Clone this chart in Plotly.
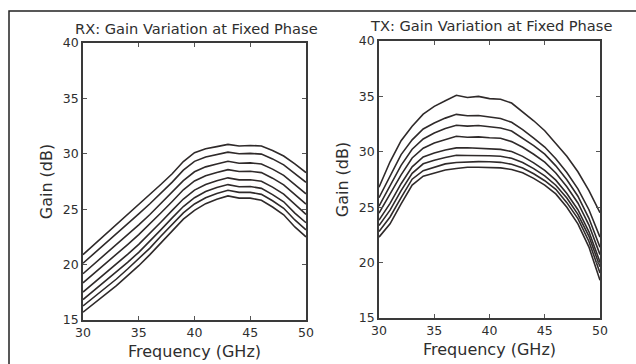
import plotly.graph_objects as go

# ---------------- data ----------------
freq_ghz = [30, 31, 32, 33, 34, 35, 36, 37, 38, 39, 40, 41, 42, 43, 44, 45, 46, 47, 48, 49, 50]

# RX: gain variation at fixed phase (8 gain states), dB
rx_gain_1 = [20.90, 21.80, 22.70, 23.60, 24.50, 25.40, 26.30, 27.25, 28.20, 29.30, 30.10, 30.45, 30.65, 30.85, 30.70, 30.75, 30.70, 30.30, 29.80, 29.10, 28.30]
rx_gain_2 = [20.12, 21.00, 21.89, 22.78, 23.68, 24.58, 25.49, 26.46, 27.44, 28.52, 29.32, 29.71, 29.94, 30.15, 30.00, 30.04, 29.97, 29.54, 29.00, 28.25, 27.43]
rx_gain_3 = [19.18, 20.05, 20.92, 21.79, 22.69, 23.59, 24.52, 25.52, 26.52, 27.58, 28.38, 28.82, 29.08, 29.32, 29.15, 29.18, 29.08, 28.62, 28.05, 27.22, 26.39]
rx_gain_4 = [18.35, 19.20, 20.05, 20.91, 21.81, 22.71, 23.65, 24.68, 25.70, 26.75, 27.55, 28.02, 28.32, 28.57, 28.40, 28.42, 28.30, 27.80, 27.20, 26.31, 25.46]
rx_gain_5 = [17.52, 18.36, 19.19, 20.03, 20.93, 21.83, 22.79, 23.84, 24.89, 25.92, 26.72, 27.23, 27.56, 27.83, 27.65, 27.66, 27.52, 26.99, 26.36, 25.40, 24.53]
rx_gain_6 = [16.84, 17.67, 18.49, 19.31, 20.21, 21.11, 22.09, 23.16, 24.22, 25.24, 26.04, 26.59, 26.95, 27.22, 27.03, 27.05, 26.88, 26.32, 25.67, 24.65, 23.78]
rx_gain_7 = [16.27, 17.08, 17.89, 18.70, 19.60, 20.50, 21.49, 22.58, 23.66, 24.67, 25.47, 26.04, 26.42, 26.71, 26.52, 26.52, 26.34, 25.76, 25.08, 24.03, 23.14]
rx_gain_8 = [15.70, 16.50, 17.30, 18.10, 19.00, 19.90, 20.90, 22.00, 23.10, 24.10, 24.90, 25.50, 25.90, 26.20, 26.00, 26.00, 25.80, 25.20, 24.50, 23.40, 22.50]

# TX: gain variation at fixed phase (8 gain states), dB
tx_gain_1 = [26.80, 29.10, 31.00, 32.30, 33.40, 34.10, 34.60, 35.10, 34.90, 35.00, 34.80, 34.75, 34.40, 33.60, 32.80, 31.90, 30.80, 29.60, 28.20, 26.50, 24.50]
tx_gain_2 = [25.86, 27.87, 29.75, 31.08, 32.06, 32.60, 33.04, 33.38, 33.26, 33.27, 33.13, 33.01, 32.66, 32.01, 31.24, 30.43, 29.37, 28.13, 26.65, 24.77, 22.30]
tx_gain_3 = [25.09, 26.97, 28.78, 30.23, 31.16, 31.70, 32.10, 32.39, 32.32, 32.38, 32.26, 32.15, 31.88, 31.24, 30.56, 29.79, 28.73, 27.48, 25.99, 24.00, 21.39]
tx_gain_4 = [24.46, 26.13, 27.92, 29.44, 30.32, 30.80, 31.10, 31.40, 31.31, 31.35, 31.27, 31.22, 30.92, 30.41, 29.78, 29.06, 28.09, 26.84, 25.38, 23.39, 20.72]
tx_gain_5 = [23.83, 25.35, 27.12, 28.64, 29.54, 29.90, 30.16, 30.35, 30.36, 30.33, 30.27, 30.22, 30.02, 29.59, 29.00, 28.32, 27.44, 26.24, 24.77, 22.78, 20.05]
tx_gain_6 = [23.34, 24.73, 26.50, 28.06, 28.92, 29.24, 29.48, 29.69, 29.67, 29.69, 29.65, 29.60, 29.42, 29.04, 28.48, 27.83, 26.98, 25.83, 24.35, 22.37, 19.62]
tx_gain_7 = [22.80, 24.12, 25.87, 27.53, 28.30, 28.64, 28.91, 29.03, 29.10, 29.11, 29.10, 29.05, 28.88, 28.54, 28.02, 27.39, 26.61, 25.41, 23.97, 21.91, 19.07]
tx_gain_8 = [22.30, 23.50, 25.30, 27.00, 27.80, 28.10, 28.35, 28.50, 28.60, 28.60, 28.60, 28.55, 28.40, 28.10, 27.60, 27.00, 26.20, 25.00, 23.50, 21.40, 18.40]

rx_series = [rx_gain_1, rx_gain_2, rx_gain_3, rx_gain_4, rx_gain_5, rx_gain_6, rx_gain_7, rx_gain_8]
tx_series = [tx_gain_1, tx_gain_2, tx_gain_3, tx_gain_4, tx_gain_5, tx_gain_6, tx_gain_7, tx_gain_8]

x_ticks = [30, 35, 40, 45, 50]
y_ticks = [15, 20, 25, 30, 35, 40]
panel_titles = ["RX: Gain Variation at Fixed Phase", "TX: Gain Variation at Fixed Phase"]
x_title = "Frequency (GHz)"
y_title = "Gain (dB)"

# ---------------- figure ----------------
W, H = 636, 364
LINE = "#2f2a2a"
TEXT = "#2e2e2e"
FONT = "DejaVu Sans"

fig = go.Figure()
for s in rx_series:
    fig.add_trace(go.Scatter(x=freq_ghz, y=s, mode="lines", xaxis="x", yaxis="y",
                             line=dict(color=LINE, width=1.6), showlegend=False, hoverinfo="skip"))
for s in tx_series:
    fig.add_trace(go.Scatter(x=freq_ghz, y=s, mode="lines", xaxis="x2", yaxis="y2",
                             line=dict(color=LINE, width=1.6), showlegend=False, hoverinfo="skip"))

def xa(dom, anchor):
    return dict(domain=dom, anchor=anchor, range=[30, 50], tickvals=x_ticks,
                ticks="inside", ticklen=4, tickwidth=1, tickcolor="#555",
                showline=True, linecolor="#3a3a3a", linewidth=1.6, mirror="ticks",
                showgrid=False, zeroline=False, automargin=False,
                tickfont=dict(family=FONT, size=12.5, color=TEXT),
                title=dict(text=x_title, font=dict(family=FONT, size=16, color=TEXT), standoff=7))

def ya(dom, anchor):
    return dict(domain=dom, anchor=anchor, range=[15, 40], tickvals=y_ticks,
                ticks="inside", ticklen=4, tickwidth=1, tickcolor="#555",
                showline=True, linecolor="#3a3a3a", linewidth=1.6, mirror="ticks",
                showgrid=False, zeroline=False, automargin=False,
                tickfont=dict(family=FONT, size=12.5, color=TEXT),
                title=dict(text=y_title, font=dict(family=FONT, size=16, color=TEXT), standoff=6))

fig.update_layout(
    width=W, height=H,
    margin=dict(l=0, r=0, t=0, b=0),
    paper_bgcolor="white", plot_bgcolor="white",
    xaxis=xa([83 / W, 306 / W], "y"),
    yaxis=ya([1 - 320 / H, 1 - 43 / H], "x"),
    xaxis2=xa([379 / W, 600 / W], "y2"),
    yaxis2=ya([1 - 318 / H, 1 - 41 / H], "x2"),
    annotations=[
        dict(text=panel_titles[0], x=196 / W, y=1 - 28.5 / H, xref="paper", yref="paper",
             showarrow=False, xanchor="center", yanchor="middle",
             font=dict(family=FONT, size=14.6, color=TEXT)),
        dict(text=panel_titles[1], x=491 / W, y=1 - 26 / H, xref="paper", yref="paper",
             showarrow=False, xanchor="center", yanchor="middle",
             font=dict(family=FONT, size=14.6, color=TEXT)),
    ],
    shapes=[
        dict(type="rect", xref="paper", yref="paper", x0=9 / W, x1=1.02, y0=-0.02, y1=1 - 11 / H,
             line=dict(color="#222", width=1.5), fillcolor="rgba(0,0,0,0)", layer="below"),
    ],
)

fig.write_html("out.html", config={"displayModeBar": False},
               post_script="document.body.style.margin='0';document.body.style.padding='0';document.body.style.overflow='hidden';")
